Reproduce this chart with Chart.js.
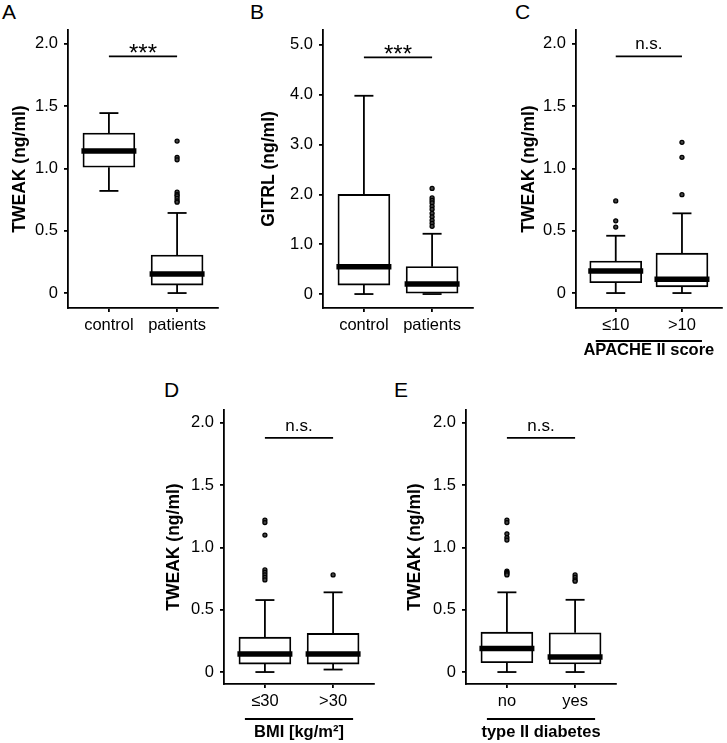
<!DOCTYPE html>
<html>
<head>
<meta charset="utf-8">
<script src="https://cdn.jsdelivr.net/npm/chart.js@4.4.1/dist/chart.umd.min.js"></script>
<style>
  body { margin: 0; background: #fff; width: 727px; height: 743px; position: relative; overflow: hidden;
         font-family: 'Liberation Sans', Arial, sans-serif; }
  canvas { position: absolute; }
  .lbl { position: absolute; font-size: 21px; line-height: 21px; color: #000; }
</style>
</head>
<body>
<div class="lbl" style="left:2px;top:1px">A</div>
<div class="lbl" style="left:250px;top:1px">B</div>
<div class="lbl" style="left:515px;top:1px">C</div>
<div class="lbl" style="left:164px;top:379px">D</div>
<div class="lbl" style="left:394px;top:379px">E</div>

<canvas id="cA" width="228" height="370" style="left:0px;top:0px"></canvas>
<canvas id="cB" width="228" height="370" style="left:255px;top:0px"></canvas>
<canvas id="cC" width="219" height="370" style="left:508px;top:0px"></canvas>
<canvas id="cD" width="228" height="363" style="left:156px;top:380px"></canvas>
<canvas id="cE" width="228" height="363" style="left:398px;top:380px"></canvas>

<script>
// tick values / labels
const tweakTicks = [0, 0.5, 1.0, 1.5, 2.0];
const tweakTickLabels = ['0', '0.5', '1.0', '1.5', '2.0'];
const gitrlTicks = [0, 1, 2, 3, 4, 5];
const gitrlTickLabels = ['0', '1.0', '2.0', '3.0', '4.0', '5.0'];

// A: TWEAK control vs patients
const catsA = ['control', 'patients'];
const lowA = [0.82, 0], q1A = [1.01, 0.064], medA = [1.14, 0.153], q3A = [1.285, 0.305], highA = [1.445, 0.643];
const outA = [[], [1.22, 1.09, 1.07, 0.81, 0.79, 0.78, 0.76, 0.74, 0.73]];

// B: GITRL control vs patients
const catsB = ['control', 'patients'];
const lowB = [0, 0], q1B = [0.18, 0], medB = [0.55, 0.2], q3B = [2.0, 0.55], highB = [3.98, 1.21];
const outB = [[], [2.12, 1.93, 1.88, 1.83, 1.76, 1.70, 1.62, 1.55, 1.48, 1.42, 1.36]];

// C: TWEAK by APACHE II score
const catsC = ['≤10', '>10'];
const lowC = [0, 0], q1C = [0.083, 0.05], medC = [0.177, 0.11], q3C = [0.257, 0.32], highC = [0.46, 0.64];
const outC = [[0.74, 0.58, 0.53], [1.21, 1.09, 0.79]];

// D: TWEAK by BMI
const catsD = ['≤30', '>30'];
const lowD = [0, 0.02], q1D = [0.064, 0.064], medD = [0.145, 0.145], q3D = [0.28, 0.31], highD = [0.578, 0.64];
const outD = [[1.22, 1.20, 1.10, 0.82, 0.80, 0.78, 0.76, 0.74], [0.78]];

// E: TWEAK by type II diabetes
const catsE = ['no', 'yes'];
const lowE = [0, 0], q1E = [0.075, 0.065], medE = [0.19, 0.12], q3E = [0.32, 0.315], highE = [0.64, 0.58];
const outE = [[1.22, 1.20, 1.11, 1.08, 1.06, 0.81, 0.80, 0.79, 0.78], [0.78, 0.76, 0.74, 0.73]];

Chart.defaults.font.family = "'Liberation Sans', Arial, sans-serif";
Chart.defaults.color = '#000';

const boxExtras = {
  id: 'boxExtras',
  afterDatasetsDraw(chart, args, o) {
    const ctx = chart.ctx, xs = chart.scales.x, ys = chart.scales.y;
    const bars = chart.getDatasetMeta(0).data;
    ctx.save();
    ctx.strokeStyle = '#000';
    const line = (x1, y1, x2, y2) => { ctx.beginPath(); ctx.moveTo(x1, y1); ctx.lineTo(x2, y2); ctx.stroke(); };
    o.low.forEach((lo, i) => {
      const px = xs.getPixelForValue(i + 1);
      const yHi = ys.getPixelForValue(o.high[i]), yLo = ys.getPixelForValue(lo);
      ctx.lineWidth = 1.8;
      line(px, ys.getPixelForValue(o.q3[i]), px, yHi);
      line(px - 9.5, yHi, px + 9.5, yHi);
      line(px, ys.getPixelForValue(o.q1[i]), px, yLo);
      line(px - 9.5, yLo, px + 9.5, yLo);
      const half = bars[i].width / 2 + 1.5;
      const yMed = ys.getPixelForValue(o.med[i]);
      ctx.lineWidth = 5.5;
      line(px - half, yMed, px + half, yMed);
    });
    // significance bar
    const x1 = xs.getPixelForValue(1), x2 = xs.getPixelForValue(2);
    const ySig = ys.getPixelForValue(o.sigY);
    ctx.lineWidth = 1.8;
    line(x1, ySig, x2, ySig);
    ctx.fillStyle = '#000';
    ctx.textAlign = 'center';
    ctx.textBaseline = 'alphabetic';
    if (o.sigText === '***') {
      ctx.font = "24px 'Liberation Sans', Arial, sans-serif";
      ctx.fillText(o.sigText, (x1 + x2) / 2, ySig + 5);
    } else {
      ctx.font = "17px 'Liberation Sans', Arial, sans-serif";
      ctx.fillText(o.sigText, (x1 + x2) / 2, ySig - 7);
    }
    // group underline above x title
    if (o.groupLine) {
      const yl = chart.chartArea.bottom + o.groupLine;
      line(x1 - 20, yl, x2 + 20, yl);
    }
    ctx.restore();
  }
};

function makeChart(id, p) {
  const bars = p.cats.map((c, i) => ({ x: i + 1, y: [p.q1[i], p.q3[i]] }));
  const pts = p.out.flatMap((arr, i) => arr.map(v => ({ x: i + 1, y: v })));
  return new Chart(document.getElementById(id), {
    type: 'bar',
    data: {
      datasets: [
        { type: 'bar', data: bars, backgroundColor: '#fff', borderColor: '#000', borderWidth: 1.8,
          borderSkipped: false, barThickness: 52 },
        { type: 'scatter', data: pts, pointRadius: 2, borderWidth: 1.3, borderColor: '#000',
          backgroundColor: '#444', pointStyle: 'circle' }
      ]
    },
    options: {
      responsive: false,
      animation: false,
      devicePixelRatio: 1,
      layout: { padding: { top: 30, right: p.padRight, left: 0, bottom: 0 } },
      plugins: {
        legend: { display: false },
        tooltip: { enabled: false },
        boxExtras: { low: p.low, q1: p.q1, med: p.med, q3: p.q3, high: p.high,
                     sigY: p.sigY, sigText: p.sigText, groupLine: p.groupLine }
      },
      scales: {
        x: {
          type: 'linear', min: 0.4, max: 2.6, offset: false,
          grid: { display: true, drawOnChartArea: false, drawTicks: true, tickLength: 4,
                  color: '#000', lineWidth: 1.8, offset: false },
          border: { display: true, color: '#000', width: 1.8 },
          ticks: { font: { size: 16.5 }, padding: 4, autoSkip: false, maxRotation: 0,
                   callback: v => p.cats[v - 1] },
          title: p.xTitle ? { display: true, text: p.xTitle, font: { size: 16.5, weight: 'bold' },
                              padding: { top: 0, bottom: p.xTitlePad } } : { display: false },
          afterBuildTicks: s => { s.ticks = p.cats.map((c, i) => ({ value: i + 1 })); },
          afterFit: s => { s.height = p.xHeight; s.paddingLeft = 0; s.paddingRight = 0; }
        },
        y: {
          type: 'linear', min: p.yMin, max: p.yMax, bounds: 'data',
          grid: { display: true, drawOnChartArea: false, drawTicks: true, tickLength: 4,
                  color: '#000', lineWidth: 1.8 },
          border: { display: true, color: '#000', width: 1.8 },
          ticks: { font: { size: 16.5 }, padding: 6, autoSkip: false,
                   callback: v => p.yLabels[p.yTicks.indexOf(v)] },
          title: { display: true, text: p.yTitle, font: { size: 17.5, weight: 'bold' },
                   padding: { top: p.yTitlePad, bottom: 0 } },
          afterBuildTicks: s => { s.ticks = p.yTicks.map(v => ({ value: v })); },
          afterFit: s => { s.width = 68; s.paddingTop = 0; s.paddingBottom = 0; }
        }
      }
    },
    plugins: [boxExtras]
  });
}

makeChart('cA', { cats: catsA, low: lowA, q1: q1A, med: medA, q3: q3A, high: highA, out: outA,
  yTicks: tweakTicks, yLabels: tweakTickLabels, yMin: -0.12, yMax: 2.112, yTitle: 'TWEAK (ng/ml)', yTitlePad: 10,
  sigY: 1.9, sigText: '***', padRight: 10, xHeight: 62 });
makeChart('cB', { cats: catsB, low: lowB, q1: q1B, med: medB, q3: q3B, high: highB, out: outB,
  yTicks: gitrlTicks, yLabels: gitrlTickLabels, yMin: -0.28, yMax: 5.3, yTitle: 'GITRL (ng/ml)', yTitlePad: 4,
  sigY: 4.75, sigText: '***', padRight: 10, xHeight: 62 });
makeChart('cC', { cats: catsC, low: lowC, q1: q1C, med: medC, q3: q3C, high: highC, out: outC,
  yTicks: tweakTicks, yLabels: tweakTickLabels, yMin: -0.12, yMax: 2.112, yTitle: 'TWEAK (ng/ml)', yTitlePad: 11,
  sigY: 1.9, sigText: 'n.s.', padRight: 1, xHeight: 62, xTitle: 'APACHE II score', xTitlePad: 9.4, groupLine: 33 });
makeChart('cD', { cats: catsD, low: lowD, q1: q1D, med: medD, q3: q3D, high: highD, out: outD,
  yTicks: tweakTicks, yLabels: tweakTickLabels, yMin: -0.096, yMax: 2.104, yTitle: 'TWEAK (ng/ml)', yTitlePad: 8,
  sigY: 1.88, sigText: 'n.s.', padRight: 10, xHeight: 59, xTitle: 'BMI [kg/m²]', xTitlePad: 0.4, groupLine: 35 });
makeChart('cE', { cats: catsE, low: lowE, q1: q1E, med: medE, q3: q3E, high: highE, out: outE,
  yTicks: tweakTicks, yLabels: tweakTickLabels, yMin: -0.096, yMax: 2.104, yTitle: 'TWEAK (ng/ml)', yTitlePad: 7,
  sigY: 1.88, sigText: 'n.s.', padRight: 10, xHeight: 59, xTitle: 'type II diabetes', xTitlePad: 0.4, groupLine: 35 });
</script>
</body>
</html>
